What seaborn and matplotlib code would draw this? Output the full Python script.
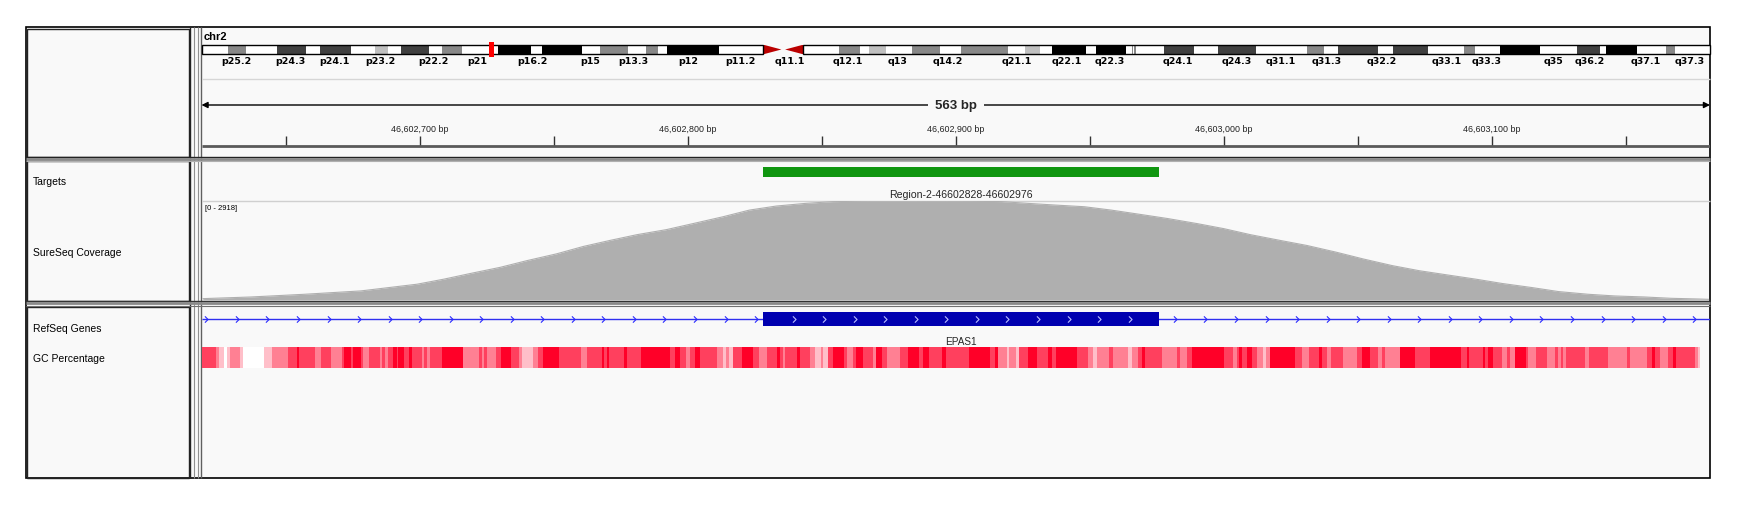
import numpy as np
import matplotlib
matplotlib.use("Agg")
import matplotlib.pyplot as plt
import seaborn as sns
from matplotlib.patches import Rectangle, Polygon
from matplotlib.path import Path

# ---------------- data ----------------
CHROM = "chr2"
CHROM_LEN_MB = 242.19
CURRENT_MB = 46.6
VIEW_START = 46602618.5
VIEW_END = 46603181.5
VIEW_LABEL = "563 bp"

band_start_mb = [0, 4.3, 7.1, 12.1, 16.7, 19.1, 24.0, 27.9, 29.9, 32.0,
                 36.6, 38.6, 41.8, 47.6, 52.9, 54.7, 61.1, 63.9, 68.4, 71.4,
                 73.3, 74.7, 83.1, 90.2, 96.6, 102.4, 105.7, 107.2, 109.9, 114.0,
                 118.5, 122.0, 129.5, 132.2, 134.6, 136.5, 142.0, 143.6, 148.4, 149.4,
                 149.55, 149.7, 150.1, 154.6, 159.4, 163.2, 169.3, 177.5, 180.2, 182.5,
                 188.9, 191.3, 196.9, 202.7, 204.4, 208.5, 214.9, 220.9, 224.6, 225.5,
                 230.4, 235.1, 236.6]
band_stain = [0, 50, 0, 75, 0, 75, 0, 25, 0, 75,
              0, 50, 0, 100, 0, 100, 0, 50, 0, 50,
              0, 100, 0, -1, 0, 50, 0, 25, 0, 50,
              0, 50, 0, 25, 0, 100, 0, 100, 0, 50,
              0, 50, 0, 75, 0, 75, 0, 50, 0, 75,
              0, 75, 0, 50, 0, 100, 0, 75, 0, 100,
              0, 50, 0]
band_labels = ["p25.2", "p24.3", "p24.1", "p23.2", "p22.2", "p21", "p16.2", "p15", "p13.3", "p12",
               "p11.2", "q11.1", "q12.1", "q13", "q14.2", "q21.1", "q22.1", "q22.3", "q24.1",
               "q24.3", "q31.1", "q31.3", "q32.2", "q33.1", "q33.3", "q35", "q36.2", "q37.1", "q37.3"]
band_label_mb = [5.65, 14.2, 21.4, 28.7, 37.2, 44.2, 53.2, 62.4, 69.3, 78.1,
                 86.5, 94.5, 103.8, 111.8, 119.9, 130.9, 138.9, 145.9, 156.8,
                 166.2, 173.2, 180.6, 189.5, 199.9, 206.3, 217.0, 222.9, 231.8, 239.0]

tick_bp = [46602650, 46602700, 46602750, 46602800, 46602850, 46602900, 46602950,
           46603000, 46603050, 46603100, 46603150]
tick_label_bp = [46602700, 46602800, 46602900, 46603000, 46603100]

target_start = 46602828
target_end = 46602976
target_name = "Region-2-46602828-46602976"

cov_pos = [46602619, 46602637, 46602657, 46602678, 46602699, 46602709, 46602719, 46602730,
           46602740, 46602751, 46602761, 46602771, 46602781, 46602792, 46602802, 46602813,
           46602823, 46602833, 46602844, 46602854, 46602868, 46602885, 46602906, 46602917,
           46602927, 46602937, 46602948, 46602958, 46602969, 46602979, 46602990, 46603000,
           46603010, 46603021, 46603031, 46603042, 46603052, 46603063, 46603073, 46603083,
           46603094, 46603104, 46603115, 46603125, 46603136, 46603146, 46603157, 46603167,
           46603177, 46603181]
cov_val = [40, 89, 169, 268, 466, 615, 784, 963, 1161, 1360, 1578, 1757, 1925, 2074, 2253,
           2451, 2650, 2769, 2848, 2898, 2918, 2918, 2910, 2900, 2848, 2799, 2749, 2650, 2521,
           2402, 2253, 2104, 1925, 1757, 1608, 1409, 1211, 1012, 863, 744, 615, 486, 367, 248,
           169, 119, 89, 50, 30, 20]
COV_MAX = 2918

gene_name = "EPAS1"
exon_start = 46602828
exon_end = 46602976

# GC track: segment end (bp offset from view start) and shade level 0..4
gc_end_offset = [5.3, 6.5, 8.4, 9.4, 10.6, 14.4, 15.4, 23.3, 26.4, 32.4, 35.5, 36.4, 42.4, 44.5, 48.3,
                 52.3, 53.2, 55.7, 56.4, 59.4, 60.4, 62.5, 66.6, 67.5, 68.5, 69.5, 71.4, 72.8, 73.5,
                 75.6, 77.4, 78.7, 82.4, 83.0, 84.0, 85.3, 89.6, 97.5, 103.7, 104.6, 105.4, 106.4,
                 109.8, 111.7, 115.4, 118.5, 119.5, 123.8, 125.5, 127.6, 133.5, 141.5, 144.0, 149.4,
                 150.3, 151.2, 152.2, 157.7, 158.7, 163.9, 174.9, 176.7, 178.6, 180.8, 182.3, 184.2,
                 186.1,
                 192.5, 194.5, 195.7, 197.0, 198.2, 201.7, 206.0, 207.9, 211.0, 214.9, 215.9, 216.9,
                 217.8, 222.1, 223.4, 227.1, 229.0, 231.1, 232.1, 234.0, 235.6, 239.8, 240.8, 243.0,
                 244.3, 246.8, 250.7, 251.7, 253.9, 255.7, 260.7, 263.8, 267.8, 269.2, 271.6, 276.2,
                 277.8, 286.6, 294.3, 296.2, 297.4, 300.5, 301.5, 304.0, 305.2, 308.6, 311.7, 316.0,
                 317.3, 319.1, 326.6, 331.0, 332.9, 334.1, 338.8, 340.3, 345.9, 347.2, 349.6, 350.9,
                 352.1, 358.3, 363.9, 365.2, 367.7, 369.5, 372.6,
                 381.6, 385.1, 386.4, 387.3, 388.2, 390.1, 392.0, 393.8, 396.3, 397.3, 398.8, 408.1,
                 410.6, 413.5, 417.1, 418.1, 419.9, 421.4, 426.2, 431.2, 433.0, 436.1, 439.2, 440.5,
                 441.7, 447.3, 452.9, 458.5, 470.1, 472.2, 473.2, 478.4, 479.0, 480.3, 481.9, 485.3,
                 487.1, 488.4, 490.2, 494.4, 495.2, 498.1, 502.1, 505.2, 506.4, 507.3, 508.3, 509.3,
                 516.4, 518.0, 525.1, 532.0, 533.2, 539.4, 541.3, 542.5, 544.4, 547.5, 549.1, 550.3,
                 557.4, 558.7, 559.3]
gc_level = [3, 2, 1, 0, 1, 2, 1, 0, 1, 2, 3, 4, 3, 2, 3, 2, 3, 4, 3, 4, 3, 2, 3, 2, 3, 2, 3, 4, 3, 4,
            3, 4, 3, 2, 3, 2, 3, 4, 2, 3, 2, 3, 2, 3, 4, 3, 2, 1, 2, 3, 4, 3, 2, 3, 4, 3, 4, 3, 4, 3,
            4, 3, 4, 3, 2, 3, 4,
            3, 2, 1, 2, 1, 3, 4, 3, 2, 3, 4, 3, 2, 3, 4, 3, 2, 1, 2, 1, 3, 4, 3, 2, 3, 4, 3, 2, 4, 3,
            2, 3, 4, 3, 4, 3, 4, 3, 4, 3, 4, 2, 1, 2, 1, 3, 4, 3, 4, 3, 4, 3, 2, 1, 2, 3, 2, 1, 2, 3,
            4, 3, 2, 3, 2, 3, 4,
            4, 3, 2, 3, 4, 3, 4, 3, 2, 1, 2, 4, 3, 2, 3, 4, 3, 2, 3, 2, 3, 4, 3, 2, 3, 2, 4, 3, 4, 3,
            4, 3, 4, 3, 4, 3, 2, 3, 2, 4, 3, 2, 3, 2, 3, 2, 3, 2, 3, 2, 3, 2, 3, 2, 3, 4, 3, 2, 3, 4,
            3, 2, 1]

track_names = ["Targets", "SureSeq Coverage", "RefSeq Genes", "GC Percentage"]
DATA_RANGE_LABEL = "[0 - 2918]"

# ---------------- style ----------------
sns.set_theme(style="white")
plt.rcParams["font.family"] = ["Liberation Sans", "DejaVu Sans"]

W, H = 1737, 510
fig = plt.figure(figsize=(W / 100, H / 100), dpi=100)
fig.patch.set_facecolor("white")

PANEL_BG = "#f9f9f9"
X0, X1 = 201.5, 1710.0  # data panel pixel span


def px_ax(x0, y0, x1, y1):
    ax = fig.add_axes([x0 / W, 1 - y1 / H, (x1 - x0) / W, (y1 - y0) / H])
    ax.set_facecolor("none")
    ax.set_axis_off()
    return ax


# background / frames
bg = px_ax(0, 0, W, H)
bg.set_xlim(0, W)
bg.set_ylim(H, 0)
bg.add_patch(Rectangle((26, 28), 1684, 451, facecolor=PANEL_BG, edgecolor="black", lw=1.2, zorder=0))
for (y0, y1) in [(29.5, 157.5), (162, 302), (308, 478.5)]:
    bg.add_patch(Rectangle((27, y0), 162, y1 - y0, facecolor="none", edgecolor="#222222", lw=1.0))
bg.vlines(189.5, 28, 479, color="#222222", lw=1.0)
bg.vlines([193.5, 197.5], 28, 479, color="#909090", lw=0.8)
bg.vlines(201, 28, 479, color="#606060", lw=1.0)
bg.hlines(158.3, 26, 1710, color="#222222", lw=1.0)
bg.hlines(160.2, 26, 1710, color="#8a8a8a", lw=2.0)
bg.hlines(162, 26, 1710, color="#b0b0b0", lw=0.8)
bg.hlines(302, 26, 1710, color="#333333", lw=1.0)
bg.hlines(304.3, 26, 1710, color="#8a8a8a", lw=2.0)
bg.hlines(307, 26, 1710, color="#707070", lw=0.8)
bg.hlines(80, X0, X1, color="#d6d6d6", lw=1.0)
bg.hlines(201.5, X0, X1, color="#d0d0d0", lw=1.0)

for name, y in zip(track_names, [181.7, 253, 329, 359]):
    bg.text(33, y, name, fontsize=7.5, va="center", ha="left", color="black")
bg.text(204, 37.5, CHROM, fontsize=8, fontweight="bold", va="center", ha="left", color="black")
bg.text(205, 209, DATA_RANGE_LABEL, fontsize=5.5, va="center", ha="left", color="black")

# ideogram
ideo = px_ax(X0, 45.7, X1, 55.3)
ideo.set_xlim(0, CHROM_LEN_MB)
ideo.set_ylim(1, 0)
stain_color = {0: "#ffffff", 25: "#c0c0c0", 50: "#888888", 75: "#404040", 100: "#000000"}
band_end_mb = band_start_mb[1:] + [CHROM_LEN_MB]
cen_s, cen_e = None, None
for s, e, st in zip(band_start_mb, band_end_mb, band_stain):
    if st < 0:
        cen_s, cen_e = s, e
        continue
    ideo.add_patch(Rectangle((s, 0), e - s, 1, facecolor=stain_color[st], edgecolor="none", lw=0))
cen_mid = (cen_s + cen_e) / 2
ideo.add_patch(Polygon([(cen_s, 0), (cen_s, 1), (cen_mid - 0.3, 0.5)], closed=True, facecolor="#bb0000", edgecolor="none"))
ideo.add_patch(Polygon([(cen_e, 0), (cen_e, 1), (cen_mid + 0.3, 0.5)], closed=True, facecolor="#bb0000", edgecolor="none"))
ideo.add_patch(Rectangle((0, 0), cen_s, 1, facecolor="none", edgecolor="black", lw=1.0, clip_on=False))
ideo.add_patch(Rectangle((cen_e, 0), CHROM_LEN_MB - cen_e, 1, facecolor="none", edgecolor="black", lw=1.0, clip_on=False))
ideo.add_patch(Rectangle((CURRENT_MB - 0.4, -0.28), 0.8, 1.56, facecolor="#ff0000", edgecolor="none", clip_on=False, zorder=5))
for lab, mb in zip(band_labels, band_label_mb):
    ideo.text(mb, 1.6, lab, fontsize=6.8, fontweight="bold", family="DejaVu Sans",
              ha="center", va="center", color="black", clip_on=False)

# ruler
ruler = px_ax(X0, 84, X1, 158)
ruler.set_xlim(VIEW_START, VIEW_END)
ruler.set_ylim(158, 84)
mid = (VIEW_START + VIEW_END) / 2
for end in (VIEW_START, VIEW_END):
    ruler.annotate("", xy=(end, 106), xytext=(mid, 106),
                   arrowprops=dict(arrowstyle="-|>", color="black", lw=1.0, mutation_scale=9,
                                   shrinkA=0, shrinkB=0), annotation_clip=False)
ruler.text(mid, 106, VIEW_LABEL, fontsize=9.5, fontweight="bold", ha="center", va="center",
           bbox=dict(facecolor=PANEL_BG, edgecolor="none", pad=5), zorder=5)
ruler.vlines(tick_bp, 137, 147, color="#333333", lw=1.0)
for t in tick_label_bp:
    ruler.text(t, 129, f"{t:,} bp", fontsize=6.4, ha="center", va="center", color="#222222")
ruler.hlines(147.3, VIEW_START, VIEW_END, color="#5a5a5a", lw=2.0)

# targets
tgt = px_ax(X0, 162, X1, 201.5)
tgt.set_xlim(VIEW_START, VIEW_END)
tgt.set_ylim(201.5, 162)
tgt.bar([target_start], [10], width=[target_end - target_start], bottom=167.7, align="edge",
        color="#109610", linewidth=0)
tgt.text((target_start + target_end) / 2, 195, target_name, fontsize=7.6, ha="center", va="center")

# coverage
cov = px_ax(X0, 202, X1, 301)
cov.set_xlim(VIEW_START, VIEW_END)
cov.set_ylim(0, COV_MAX)
cov.fill_between(cov_pos, cov_val, 0, color="#afafaf", linewidth=0)
sns.lineplot(x=cov_pos, y=cov_val, ax=cov, color="#afafaf", linewidth=0.8)
cov.set_axis_off()

# genes + GC
gene = px_ax(X0, 308, X1, 372)
gene.set_xlim(VIEW_START, VIEW_END)
gene.set_ylim(372, 308)
gene.hlines(320, VIEW_START, VIEW_END, color="#3030f0", lw=1.0)
gene.bar([exon_start], [14], width=[exon_end - exon_start], bottom=312.7, align="edge",
         color="#0000b0", linewidth=0, zorder=3)
chev = Path([(-0.5, 1.0), (0.5, 0.0), (-0.5, -1.0)], [Path.MOVETO, Path.LINETO, Path.LINETO])
step = 11.4
left_chev = np.arange(VIEW_START + 1.8, exon_start, step)
right_chev = np.arange(exon_end + 5.8, VIEW_END, step)
in_chev = np.arange(exon_start + 11.5, exon_end, step)
gene.plot(np.r_[left_chev, right_chev], np.full(len(left_chev) + len(right_chev), 320), ls="none",
          marker=chev, ms=4.5, mfc="none", mec="#2a2aff", mew=0.8)
gene.plot(in_chev, np.full(len(in_chev), 320), ls="none", marker=chev, ms=4.5, mfc="none",
          mec="#b8bcff", mew=0.8, zorder=4)
gene.text((exon_start + exon_end) / 2, 341.7, gene_name, fontsize=7.2, ha="center", va="center")

base = np.array(matplotlib.colors.to_rgb("#ff0028"))
gc_start_offset = [0.0] + gc_end_offset[:-1]
gc_colors = [tuple(1 - (lv / 4.0) * (1 - base)) for lv in gc_level]
gene.bar([VIEW_START + s for s in gc_start_offset], [20.4] * len(gc_level),
         width=[e - s for s, e in zip(gc_start_offset, gc_end_offset)], bottom=348.3,
         align="edge", color=gc_colors, linewidth=0, antialiased=False)

fig.savefig("out.png", dpi=100, facecolor="white")
